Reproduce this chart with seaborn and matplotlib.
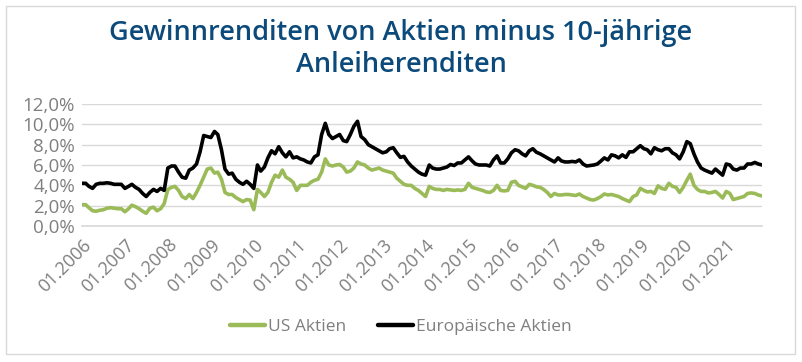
import numpy as np
import pandas as pd
import matplotlib.pyplot as plt
import matplotlib.dates as mdates
from matplotlib.patches import Rectangle
from matplotlib.ticker import FuncFormatter
import seaborn as sns

# monthly values in %, 01.2006 - 11.2021
us_aktien = [
    2.1, 2.1, 1.8, 1.5, 1.45, 1.55, 1.6, 1.75, 1.8, 1.75, 1.7, 1.7,        # 2006
    1.4, 1.7, 2.05, 1.9, 1.7, 1.45, 1.25, 1.75, 1.85, 1.5, 1.7, 2.2,       # 2007
    3.6, 3.8, 3.9, 3.5, 2.9, 2.7, 3.1, 2.7, 3.3, 4.0, 4.8, 5.6,            # 2008
    5.7, 5.2, 5.3, 4.6, 3.3, 3.1, 3.1, 2.8, 2.6, 2.4, 2.6, 2.55,           # 2009
    1.6, 3.6, 3.3, 2.9, 3.3, 4.3, 5.0, 4.8, 5.5, 4.8, 4.6, 4.3,            # 2010
    3.5, 4.0, 4.0, 4.0, 4.3, 4.5, 4.6, 5.3, 6.6, 6.0, 5.9, 6.0,            # 2011
    6.05, 5.8, 5.3, 5.4, 5.7, 6.3, 6.1, 6.0, 5.7, 5.5, 5.6, 5.7,           # 2012
    5.5, 5.4, 5.3, 5.2, 4.7, 4.4, 4.1, 4.0, 4.0, 3.7, 3.5, 3.2,            # 2013
    2.9, 3.9, 3.7, 3.6, 3.6, 3.5, 3.6, 3.55, 3.5, 3.55, 3.5, 3.6,          # 2014
    4.2, 3.8, 3.7, 3.6, 3.5, 3.35, 3.3, 3.5, 4.0, 3.5, 3.45, 3.5,          # 2015
    4.3, 4.4, 4.0, 3.85, 3.7, 4.1, 4.0, 3.85, 3.8, 3.6, 3.3, 2.9,          # 2016
    3.2, 3.05, 3.05, 3.1, 3.1, 3.05, 3.0, 3.15, 2.9, 2.75, 2.6, 2.55,      # 2017
    2.7, 2.9, 3.15, 3.05, 3.1, 3.0, 2.9, 2.7, 2.55, 2.4, 2.9, 3.05,        # 2018
    3.7, 3.5, 3.35, 3.4, 3.2, 3.95, 3.7, 3.6, 4.2, 3.9, 3.8, 3.3,          # 2019
    3.8, 4.5, 5.1, 4.0, 3.6, 3.4, 3.4, 3.25, 3.3, 3.4, 3.1, 2.75,          # 2020
    3.4, 3.2, 2.6, 2.7, 2.8, 2.9, 3.2, 3.25, 3.2, 3.05, 2.95,              # 2021
]

eu_aktien = [
    4.2, 4.2, 3.9, 3.7, 4.1, 4.2, 4.2, 4.25, 4.2, 4.1, 4.1, 4.1,           # 2006
    3.7, 3.9, 4.1, 3.8, 3.6, 3.2, 2.9, 3.3, 3.6, 3.4, 3.7, 3.5,            # 2007
    5.7, 5.9, 5.9, 5.3, 4.8, 4.7, 5.5, 5.7, 6.1, 7.3, 8.9, 8.8,            # 2008
    8.7, 9.3, 9.0, 7.5, 5.6, 5.1, 5.2, 4.6, 4.3, 4.1, 4.4, 4.1,            # 2009
    3.7, 6.0, 5.4, 5.8, 6.7, 7.4, 7.1, 7.8, 7.2, 6.8, 7.3, 6.7,            # 2010
    6.8, 6.6, 6.5, 6.3, 6.2, 6.8, 7.0, 9.0, 10.1, 9.0, 8.6, 8.8,           # 2011
    9.0, 8.4, 8.3, 9.0, 9.8, 10.3, 8.8, 8.5, 8.0, 7.8, 7.6, 7.4,           # 2012
    7.2, 7.3, 7.6, 7.7, 7.2, 6.75, 6.85, 6.3, 5.9, 5.6, 5.3, 5.1,          # 2013
    5.0, 6.0, 5.7, 5.6, 5.6, 5.7, 5.8, 6.05, 5.95, 6.2, 6.2, 6.5,          # 2014
    6.8, 6.4, 6.1, 6.0, 6.0, 6.0, 5.9, 6.5, 6.9, 6.2, 6.2, 6.6,            # 2015
    7.2, 7.5, 7.4, 7.1, 6.9, 7.4, 7.6, 7.25, 7.1, 6.9, 6.7, 6.5,           # 2016
    6.3, 6.7, 6.4, 6.3, 6.3, 6.35, 6.3, 6.5, 6.1, 5.9, 5.95, 6.0,          # 2017
    6.1, 6.4, 6.7, 6.5, 7.0, 6.9, 6.7, 7.0, 6.75, 7.3, 7.3, 7.6,           # 2018
    7.9, 7.6, 7.5, 7.1, 7.7, 7.5, 7.4, 7.6, 7.6, 7.2, 7.0, 6.6,            # 2019
    7.3, 8.3, 8.1, 7.1, 6.3, 5.7, 5.5, 5.35, 5.2, 5.6, 5.3, 5.0,           # 2020
    6.1, 6.0, 5.6, 5.5, 5.7, 5.7, 6.1, 6.1, 6.25, 6.1, 6.0,                # 2021
]

series_names = ["US Aktien", "Europäische Aktien"]
series_colors = ["#9bbb59", "#000000"]
y_ticks = [0, 2, 4, 6, 8, 10, 12]

title = "Gewinnrenditen von Aktien minus 10-jährige\nAnleiherenditen"

months = pd.date_range("2006-01-01", periods=len(us_aktien), freq="MS")
df = pd.concat([
    pd.DataFrame({"Monat": months, "Wert": us_aktien, "Serie": series_names[0]}),
    pd.DataFrame({"Monat": months, "Wert": eu_aktien, "Serie": series_names[1]}),
])

sns.set_theme(style="white")
plt.rcParams["font.family"] = ["Open Sans", "DejaVu Sans"]

GRAY = "#7f7f7f"
GRID = "#d9d9d9"

fig = plt.figure(figsize=(8.02, 3.62), dpi=100)
ax = fig.add_axes([82 / 802, 1 - 226 / 362, (762 - 82) / 802, (226 - 104) / 362])

sns.lineplot(data=df, x="Monat", y="Wert", hue="Serie",
             palette=dict(zip(series_names, series_colors)),
             linewidth=2.6, ax=ax)

ax.set_ylim(0, 12)
ax.set_xlim(months[0], months[-1])
ax.set_yticks(y_ticks)
ax.yaxis.set_major_formatter(FuncFormatter(lambda v, _: f"{v:.1f}%".replace(".", ",")))
ax.grid(axis="y", color=GRID, linewidth=1)
ax.grid(axis="x", visible=False)
ax.set_axisbelow(True)

ax.xaxis.set_major_locator(mdates.YearLocator(month=1))
ax.xaxis.set_major_formatter(mdates.DateFormatter("%m.%Y"))
ax.set_xticks([t for t in ax.get_xticks() if t <= mdates.date2num(months[-1])])

for s in ["top", "right", "left"]:
    ax.spines[s].set_visible(False)
ax.spines["bottom"].set_color(GRID)
ax.tick_params(axis="x", colors=GRID, length=5, width=1, direction="out", pad=2,
               labelcolor=GRAY, labelsize=13, labelrotation=45)
ax.tick_params(axis="y", length=0, labelcolor=GRAY, labelsize=13.5, pad=5)
for lab in ax.get_xticklabels():
    lab.set_ha("right")
    lab.set_rotation_mode("anchor")
ax.set_xlabel("")
ax.set_ylabel("")

handles, labels = ax.get_legend_handles_labels()
leg = ax.legend(handles, labels, loc="center", bbox_to_anchor=(0.5, 1 - 327 / 362),
                bbox_transform=fig.transFigure, ncol=2, frameon=False,
                fontsize=12.5, handlelength=2.0, handletextpad=0.2, columnspacing=1.8)
for t in leg.get_texts():
    t.set_color(GRAY)
for h in leg.get_lines():
    h.set_linewidth(3.2)

fig.text(0.5, 1 - 49 / 362, title, ha="center", va="center", color="#0b4a7a",
         fontsize=19.5, fontweight="semibold", linespacing=1.15)

fig.patches.append(Rectangle((6 / 802, 1 - 354 / 362), (795 - 6) / 802, (354 - 6) / 362,
                             transform=fig.transFigure, fill=False,
                             edgecolor=GRID, linewidth=1))

fig.savefig("out.png", dpi=100)
